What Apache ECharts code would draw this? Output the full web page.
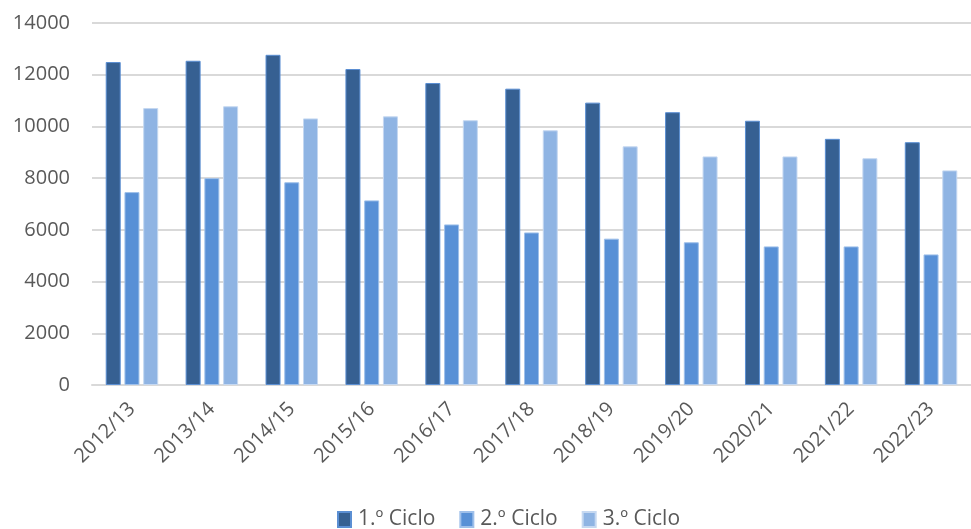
<!DOCTYPE html>
<html>
<head>
<meta charset="utf-8">
<script src="https://cdn.jsdelivr.net/npm/echarts@6/dist/echarts.min.js"></script>
<style>
  html, body { margin: 0; padding: 0; background: #fff; }
  #chart { width: 971px; height: 529px; }
</style>
</head>
<body>
<div id="chart"></div>
<script>
const years = ["2012/13", "2013/14", "2014/15", "2015/16", "2016/17", "2017/18",
  "2018/19", "2019/20", "2020/21", "2021/22", "2022/23"];
const ciclo1 = [12490, 12540, 12770, 12220, 11680, 11460, 10920, 10550, 10220, 9520, 9390];
const ciclo2 = [7460, 8000, 7840, 7140, 6210, 5900, 5660, 5520, 5360, 5360, 5050];
const ciclo3 = [10710, 10780, 10310, 10390, 10240, 9850, 9230, 8840, 8840, 8770, 8300];
const seriesNames = ["1.º Ciclo", "2.º Ciclo", "3.º Ciclo"];

const font = "'Open Sans', 'Liberation Sans', sans-serif";
const textColor = "#595959";

const chart = echarts.init(document.getElementById("chart"));

function bar(name, values, fill, border) {
  return {
    name: name,
    type: "bar",
    data: values,
    barWidth: 15,
    barGap: "25%",
    itemStyle: { color: fill, borderColor: border, borderWidth: 1 },
  };
}

chart.setOption({
  animation: false,
  grid: { left: 92, top: 23, width: 891, height: 362 },
  legend: {
    data: seriesNames,
    left: 332,
    top: 504,
    itemWidth: 13,
    itemHeight: 15,
    itemGap: 24,
    icon: "rect",
    textStyle: { fontFamily: font, fontSize: 21, color: textColor, padding: [0, 0, 0, 2] },
  },
  xAxis: {
    type: "category",
    data: years,
    axisTick: { show: false },
    axisLine: { lineStyle: { color: "#d9d9d9", width: 2 } },
    axisLabel: {
      rotate: 45,
      margin: 21,
      fontFamily: font,
      fontSize: 20,
      color: textColor,
    },
  },
  yAxis: {
    type: "value",
    min: 0,
    max: 14000,
    interval: 2000,
    axisLine: { show: false },
    axisTick: { show: false },
    axisLabel: {
      margin: 22,
      fontFamily: font,
      fontSize: 20,
      color: textColor,
      formatter: (v) => String(v),
    },
    splitLine: { lineStyle: { color: "#d9d9d9", width: 2 } },
  },
  series: [
    bar(seriesNames[0], ciclo1, "#366092", "#5b8fd3"),
    bar(seriesNames[1], ciclo2, "#5890d6", "#9fc0ea"),
    bar(seriesNames[2], ciclo3, "#8fb4e3", "#c5d8f1"),
  ],
});
</script>
</body>
</html>
